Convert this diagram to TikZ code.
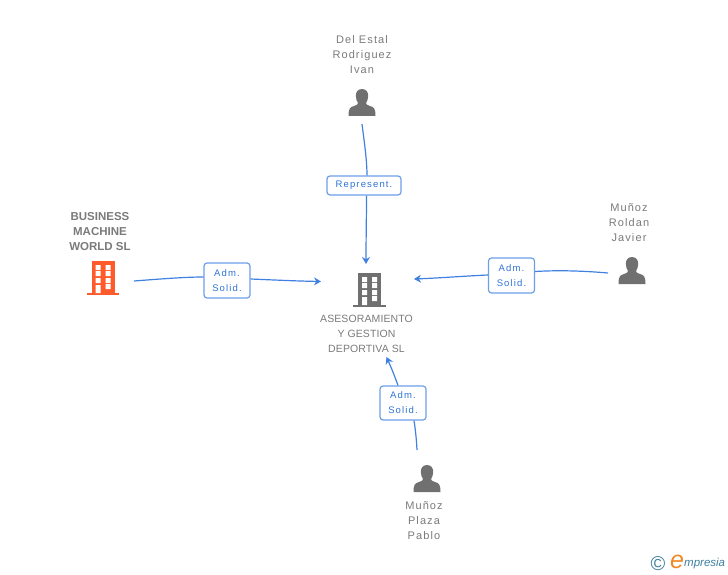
\documentclass[tikz,border=0pt]{standalone}
\usepackage{fontspec}
\setmainfont{Liberation Sans}
\newfontfamily\firmface[LetterSpace=1]{Liberation Sans}
\newfontfamily\wide[LetterSpace=10]{Liberation Sans}
\newfontfamily\roleface[LetterSpace=12]{Liberation Sans}
\usetikzlibrary{arrows.meta}
\definecolor{txtgrey}{HTML}{7A7A7A}
\definecolor{icongrey}{HTML}{707070}
\definecolor{bldorange}{HTML}{FF5A2C}
\definecolor{linkblue}{HTML}{3F80E0}
\definecolor{boxblue}{HTML}{6C9FE8}
\definecolor{roletext}{HTML}{2F74D8}
\definecolor{logoteal}{HTML}{3E7F9E}
\definecolor{logoorange}{HTML}{F08A24}
\tikzset{
  x=1pt,y=-1pt,
  who/.style={text=txtgrey,align=center,inner sep=0pt,font=\fontsize{11}{15}\selectfont\wide},
  firm/.style={text=txtgrey,align=center,inner sep=0pt,font=\fontsize{10.5}{15}\selectfont\firmface},
  boldfirm/.style={text=txtgrey,align=center,inner sep=0pt,font=\fontsize{11.5}{15}\selectfont\bfseries},
  rolebox/.style={draw=boxblue,line width=1.2pt,rounded corners=3pt,fill=white,text=roletext,align=center,inner sep=0pt,font=\fontsize{9.5}{15}\selectfont\roleface},
  link/.style={draw=linkblue,line width=1.2pt},
  arrowlink/.style={link,-{Stealth[length=7pt,width=8pt]}},
  building/.pic={
    \fill[pic actions] (-11.5,-16) rectangle (11.5,16);
    \fill[pic actions] (-16.5,16) rectangle (16,18);
    \fill[white] (-7.5,-12) rectangle (-2.5,-7) (2.5,-12) rectangle (7.5,-7)
                 (-7.5,-6) rectangle (-2.5,-1) (2.5,-6) rectangle (7.5,-1)
                 (-7.5,1) rectangle (-2.5,6) (2.5,1) rectangle (7.5,6)
                 (-7.5,8) rectangle (-2.5,16) (2.5,7) rectangle (7.5,12);
  },
  person/.pic={
    \fill[pic actions] (0,0) .. controls (-4.5,0) and (-6.2,3.5) .. (-6.2,7)
      .. controls (-6.2,10) and (-5,12.5) .. (-4,14)
      .. controls (-4,15.5) and (-5,16) .. (-8,17)
      .. controls (-12,18.2) and (-13.5,19.5) .. (-13.5,27)
      -- (13.5,27)
      .. controls (13.5,19.5) and (12,18.2) .. (8,17)
      .. controls (5,16) and (4,15.5) .. (4,14)
      .. controls (5,12.5) and (6.2,10) .. (6.2,7)
      .. controls (6.2,3.5) and (4.5,0) .. (0,0) -- cycle;
  }
}
\begin{document}
\begin{tikzpicture}
\useasboundingbox (0,0) rectangle (728,575);
% icons
\pic[fill=bldorange] at (103,277) {building};
\pic[fill=icongrey] at (369.5,289) {building};
\pic[fill=icongrey] at (362,89) {person};
\pic[fill=icongrey] at (632,257) {person};
\pic[fill=icongrey] at (427,465) {person};
% texts
\node[who] (ivan) at (362,55) {Del Estal\\Rodriguez\\Ivan};
\node[boldfirm] (bmw) at (100,232) {BUSINESS\\MACHINE\\WORLD SL};
\node[who] (roldan) at (629,223) {Muñoz\\Roldan\\Javier};
\node[firm] (ases) at (366.5,334) {ASESORAMIENTO\\Y GESTION\\DEPORTIVA SL};
\node[who] (plaza) at (424,521) {Muñoz\\Plaza\\Pablo};
% connector ends
\coordinate (ivanEnd) at (362,124);
\coordinate (ivanTip) at (366,264);
\coordinate (bmwEnd) at (134,281);
\coordinate (bmwTip) at (321,281.5);
\coordinate (roldanEnd) at (608,273);
\coordinate (roldanTip) at (414,279);
\coordinate (plazaEnd) at (417,450);
\coordinate (plazaTip) at (386.5,357);
% boxes
\node[rolebox,minimum width=74pt,minimum height=19pt] (repr) at (364,185.5) {Represent.};
\node[rolebox,minimum width=46pt,minimum height=35pt] (adm1) at (227,280.5) {Adm.\\Solid.};
\node[rolebox,minimum width=46pt,minimum height=35pt] (adm2) at (511.5,275.5) {Adm.\\Solid.};
\node[rolebox,minimum width=46pt,minimum height=34pt] (adm3) at (403,403) {Adm.\\Solid.};
% connectors
\draw[link] (ivanEnd) .. controls (364,140) and (367,160) .. (repr.north -| 367,0);
\draw[arrowlink] (repr.south -| 366.5,0) .. controls (366.5,215) and (366,240) .. (ivanTip);
\draw[link] (bmwEnd) .. controls (160,279) and (185,277) .. (adm1.west |- 0,277);
\draw[arrowlink] (adm1.east |- 0,279) .. controls (275,280) and (295,281) .. (bmwTip);
\draw[link] (roldanEnd) .. controls (585,271) and (560,270) .. (adm2.east |- 0,271.5);
\draw[arrowlink] (adm2.west |- 0,275) .. controls (465,276) and (440,278) .. (roldanTip);
\draw[link] (plazaEnd) .. controls (416.5,440) and (415.5,430) .. (adm3.south -| 414,0);
\draw[arrowlink] (adm3.north -| 398,0) .. controls (395,377) and (391,367) .. (plazaTip);
% logo
\node[text=logoteal,inner sep=0pt,font=\fontsize{20}{20}\selectfont] (copyr) at (658,564) {©};
\node[text=logoorange,inner sep=0pt,font=\fontsize{25}{25}\selectfont\itshape] (logoe) at (677,562) {e};
\node[text=logoteal,inner sep=0pt,anchor=west,font=\fontsize{11.5}{14}\selectfont\itshape] (logot) at (684,564) {mpresia};
\end{tikzpicture}
\end{document}
